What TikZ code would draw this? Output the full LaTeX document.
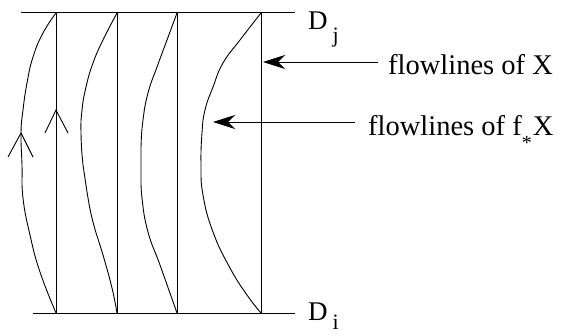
\documentclass[tikz,border=0pt]{standalone}
\usepackage{fontspec}
\setmainfont{Liberation Serif}
\usetikzlibrary{arrows.meta, positioning}

\begin{document}
\begin{tikzpicture}[x=1pt, y=1pt,
    edge_line/.style={line width=1pt},
    leaf/.style={line width=0.9pt},
    chevron/.style={line width=0.9pt, line join=miter},
    pointer/.style={draw, line width=0.9pt, -{Stealth[length=22pt, width=14pt, inset=7pt]}},
    flow_label/.style={anchor=west, inner xsep=10pt, inner ysep=0pt, text height=26pt, text depth=0pt, font=\fontsize{28.5}{30}\selectfont},
    disc_label/.style={anchor=base west, inner sep=0pt, font=\fontsize{27}{30}\selectfont}]
    \useasboundingbox (0,0) rectangle (561,335);
    % discs D_j (top) and D_i (bottom)
    \coordinate (tl) at (21,322);
    \coordinate (tr) at (295,322);
    \coordinate (bl) at (33,22);
    \coordinate (br) at (295,22);
    \draw [edge_line] (tl) -- (tr);
    \draw [edge_line] (bl) -- (br);
    \node [disc_label] (dj) at (308,305) {D\hspace{5pt}\raisebox{-13pt}{\fontsize{22}{24}\selectfont j}};
    \node [disc_label] (di) at (308,15) {D\hspace{5pt}\raisebox{-9pt}{\fontsize{22}{24}\selectfont i}};
    % flowlines of X
    \foreach \n/\x in {1/56, 2/117, 3/177, 4/261} {
        \coordinate (t\n) at (\x,322);
        \coordinate (b\n) at (\x,22);
        \draw [edge_line] (t\n) -- (b\n);
    }
    % flowlines of f_* X
    \draw [leaf] plot [smooth, tension=0.8] coordinates {(t1) (43,302) (33,278) (27,252) (23,225) (21,202) (22,170) (23,137) (30,100) (40,63) (b1)};
    \draw [leaf] plot [smooth, tension=0.8] coordinates {(t2) (103,295) (93,272) (86,248) (82,225) (81,202) (83,170) (87,143) (93,113) (103,80) (112,47) (b2)};
    \draw [leaf] plot [smooth, tension=0.8] coordinates {(t3) (167,295) (157,268) (148,242) (143,215) (141,188) (141,165) (142,137) (148,103) (160,70) (b3)};
    \draw [leaf] plot [smooth, tension=0.8] coordinates {(t4) (240,295) (223,272) (213,248) (205,225) (202,202) (201,170) (203,140) (213,103) (230,67) (247,40) (b4)};
    % direction marks
    \draw [chevron] (8,178) -- (21,202) -- (33,178);
    \draw [chevron] (45,202) -- (56,225) -- (68,202);
    % labels
    \node [flow_label] (fx) at (378,273) {flowlines of X};
    \coordinate (hx) at (263,273);
    \draw [pointer] (fx.west) -- (hx);
    \node [flow_label, inner xsep=13pt] (ffx) at (355,213) {flowlines of f\raisebox{-14pt}{\fontsize{20}{20}\selectfont *}\hspace{1pt}X};
    \coordinate (hfx) at (213,213);
    \draw [pointer] (ffx.west) -- (hfx);
\end{tikzpicture}
\end{document}
